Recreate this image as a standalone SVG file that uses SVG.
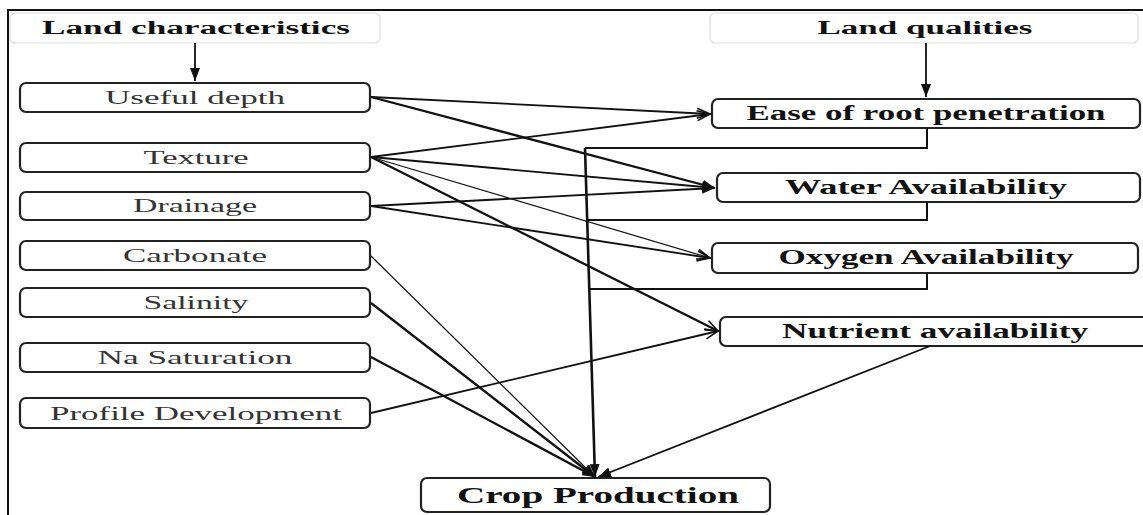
<svg xmlns="http://www.w3.org/2000/svg" width="1143" height="515" viewBox="0 0 1143 515">
<style>
.frame{fill:none;stroke:#111;stroke-width:2}
.hdr{fill:#fff;stroke:#ddd;stroke-width:1.2}
.box{fill:#fff;stroke:#222;stroke-width:2.2}
.ht{font-family:"Liberation Serif",serif;font-weight:bold;font-size:18px;fill:#111;text-anchor:middle}
.lt{font-family:"Liberation Serif",serif;font-size:19px;fill:#333;text-anchor:middle}
.rt{font-family:"Liberation Serif",serif;font-weight:bold;font-size:20px;fill:#111;text-anchor:middle}
.ct{font-family:"Liberation Serif",serif;font-weight:bold;font-size:23px;fill:#111;text-anchor:middle}
.c{fill:none;stroke:#111;stroke-width:1.8}
.th{stroke-width:2.3}
.tn{stroke-width:1.2}
.fb{fill:none;stroke:#111;stroke-width:2}
</style>
<defs>
<marker id="fill" markerUnits="userSpaceOnUse" markerWidth="14" markerHeight="10" refX="13" refY="5" orient="auto">
<path d="M0,0 L13,5 L0,10 z" fill="#111"/>
</marker>
<marker id="open" markerUnits="userSpaceOnUse" markerWidth="16" markerHeight="12" refX="14" refY="6" orient="auto">
<path d="M1,1 L14,6 L1,11" fill="none" stroke="#111" stroke-width="1.6"/>
</marker>
</defs>
<g id="frame">
<path class="frame" d="M8,515 L8,10 L1143,10"/>
</g>
<g id="hdr-land-characteristics">
<rect class="hdr" x="10" y="13" width="370" height="30" rx="5"/>
<text class="ht" x="196" y="34" textLength="308" lengthAdjust="spacingAndGlyphs">Land characteristics</text>
</g>
<g id="hdr-land-qualities">
<rect class="hdr" x="710" y="13" width="428" height="30" rx="5"/>
<text class="ht" x="925" y="34" textLength="215" lengthAdjust="spacingAndGlyphs">Land qualities</text>
</g>
<g id="n-useful-depth">
<rect class="box" x="20" y="83" width="350" height="29" rx="6"/>
<text class="lt" x="195" y="104" textLength="180" lengthAdjust="spacingAndGlyphs">Useful depth</text>
</g>
<g id="n-texture">
<rect class="box" x="20" y="143" width="350" height="29" rx="6"/>
<text class="lt" x="196" y="164" textLength="105" lengthAdjust="spacingAndGlyphs">Texture</text>
</g>
<g id="n-drainage">
<rect class="box" x="20" y="192" width="350" height="28" rx="6"/>
<text class="lt" x="195" y="212" textLength="124" lengthAdjust="spacingAndGlyphs">Drainage</text>
</g>
<g id="n-carbonate">
<rect class="box" x="20" y="241" width="350" height="29" rx="6"/>
<text class="lt" x="195" y="262" textLength="144" lengthAdjust="spacingAndGlyphs">Carbonate</text>
</g>
<g id="n-salinity">
<rect class="box" x="20" y="288" width="350" height="29" rx="6"/>
<text class="lt" x="196" y="309" textLength="105" lengthAdjust="spacingAndGlyphs">Salinity</text>
</g>
<g id="n-na-saturation">
<rect class="box" x="20" y="343" width="350" height="29" rx="6"/>
<text class="lt" x="195" y="364" textLength="195" lengthAdjust="spacingAndGlyphs">Na Saturation</text>
</g>
<g id="n-profile-development">
<rect class="box" x="20" y="398" width="350" height="30" rx="6"/>
<text class="lt" x="196" y="420" textLength="292" lengthAdjust="spacingAndGlyphs">Profile Development</text>
</g>
<g id="n-ease">
<rect class="box" x="712" y="99" width="428" height="29" rx="6"/>
<text class="rt" x="926" y="120" textLength="359" lengthAdjust="spacingAndGlyphs">Ease of root penetration</text>
</g>
<g id="n-water">
<rect class="box" x="717" y="173" width="423" height="29" rx="6"/>
<text class="rt" x="926" y="194" textLength="282" lengthAdjust="spacingAndGlyphs">Water Availability</text>
</g>
<g id="n-oxygen">
<rect class="box" x="712" y="243" width="426" height="30" rx="6"/>
<text class="rt" x="926" y="264" textLength="295" lengthAdjust="spacingAndGlyphs">Oxygen Availability</text>
</g>
<g id="n-nutrient">
<rect class="box" x="720" y="317" width="430" height="29" rx="6"/>
<text class="rt" x="935" y="338" textLength="306" lengthAdjust="spacingAndGlyphs">Nutrient availability</text>
</g>
<g id="n-crop">
<rect class="box" x="421" y="478" width="349" height="34" rx="6"/>
<text class="ct" x="598" y="503" textLength="282" lengthAdjust="spacingAndGlyphs">Crop Production</text>
</g>
<g id="connectors">
<path class="c" d="M195,43 L195,81" marker-end="url(#fill)"/>
<path class="c" d="M926,43 L926,97" marker-end="url(#fill)"/>
<path class="c" d="M371,97 L710,114" marker-end="url(#open)"/>
<path class="c th" d="M371,97 L715,188" marker-end="url(#fill)"/>
<path class="c" d="M371,157 L710,114" marker-end="url(#open)"/>
<path class="c" d="M371,157 L715,188" marker-end="url(#fill)"/>
<path class="c tn" d="M371,157 L710,258" marker-end="url(#open)"/>
<path class="c th" d="M371,157 L718,331" marker-end="url(#open)"/>
<path class="c" d="M371,206 L715,188" marker-end="url(#fill)"/>
<path class="c" d="M371,206 L710,258" marker-end="url(#open)"/>
<path class="c tn" d="M371,256 L595,477" marker-end="url(#fill)"/>
<path class="c th" d="M371,303 L595,477" marker-end="url(#fill)"/>
<path class="c th" d="M371,357 L595,477" marker-end="url(#fill)"/>
<path class="c" d="M371,413 L718,331" marker-end="url(#open)"/>
<path class="c" d="M930,346 L598,477" marker-end="url(#fill)"/>
<path class="fb" d="M927,128 L927,148 L585,148"/>
<path class="fb" d="M927,202 L927,220 L587,220"/>
<path class="fb" d="M927,273 L927,289 L589,289"/>
<path class="c" style="stroke-width:2.6" d="M585,148 L595,477" marker-end="url(#fill)"/>
</g>
</svg>
